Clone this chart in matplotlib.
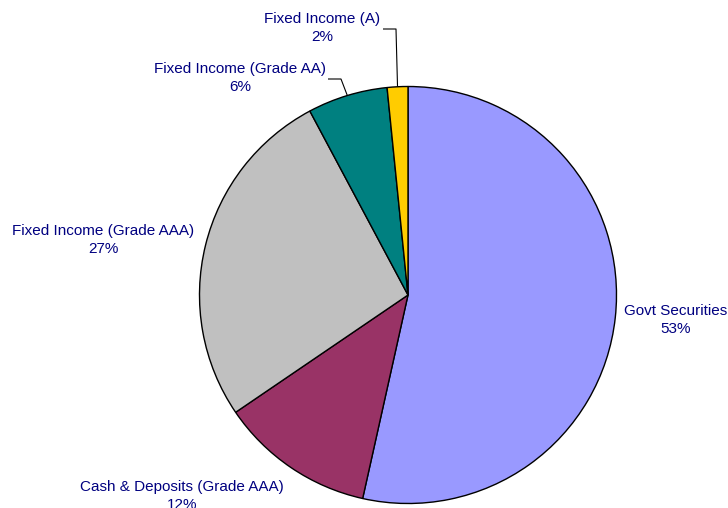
import matplotlib
matplotlib.use("Agg")
import matplotlib.pyplot as plt
import numpy as np

categories = ["Govt Securities", "Cash & Deposits (Grade AAA)", "Fixed Income (Grade AAA)",
              "Fixed Income (Grade AA)", "Fixed Income (A)"]
shares = [53.49, 12.0, 26.71, 6.2, 1.6]
colors = ["#9999FF", "#993366", "#C0C0C0", "#008080", "#FFCC00"]

W, H = 728, 508
fig = plt.figure(figsize=(W / 100, H / 100), dpi=100)
ax = fig.add_axes([0, 0, 1, 1])

cx, cy, R = 408, H - 295, 208.5
wedges, _ = ax.pie(shares, colors=colors, startangle=90, counterclock=False,
                   center=(cx, cy), radius=R, frame=True,
                   wedgeprops=dict(edgecolor="black", linewidth=1.0))
ax.set_xlim(0, W)
ax.set_ylim(0, H)
ax.set_aspect("equal")
ax.axis("off")

# label layout (pixel positions of label centres, top-down y)
label_pos = [(676, 320), (182, 496), (103, 240), (240, 78), (322, 28)]
# elbow points for leader lines (None = no leader)
elbows = [None, None, None, (341, 79), (396, 29)]
line_ends = [None, None, None, 328, 383]

txt_color = "#000080"
for w, cat, val, (lx, ly), elb, le in zip(wedges, categories, shares, label_pos, elbows, line_ends):
    ax.text(lx, H - ly, f"{cat}\n{round(val):d}%", ha="center", va="center",
            fontsize=11, family=["Liberation Sans", "DejaVu Sans"], color=txt_color,
            linespacing=1.4)
    if elb is not None:
        mid = np.deg2rad((w.theta1 + w.theta2) / 2)
        ex, ey = cx + R * np.cos(mid), cy + R * np.sin(mid)
        ax.plot([ex, elb[0], le], [ey, H - elb[1], H - elb[1]], color="black", lw=0.8,
                solid_capstyle="butt")

fig.savefig("out.png", dpi=100)
